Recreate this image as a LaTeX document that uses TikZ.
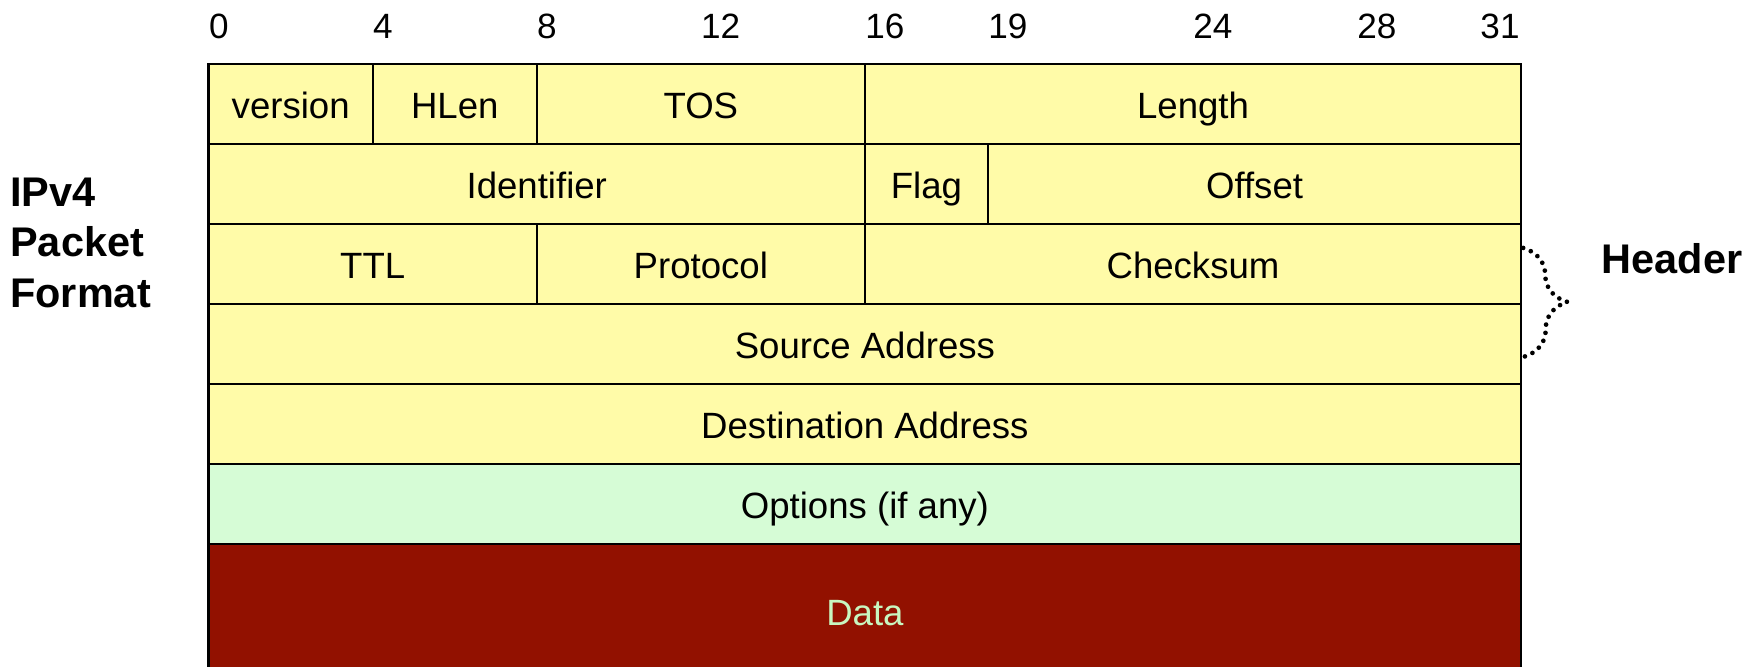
\documentclass[tikz,border=0pt]{standalone}
\usepackage{fontspec}
\setmainfont{Liberation Sans}
\usetikzlibrary{positioning,calc,decorations.pathreplacing}
\definecolor{ipedge}{RGB}{0,0,0}
\definecolor{iphdr}{RGB}{255,251,168}
\definecolor{ipopt}{RGB}{214,252,214}
\definecolor{ipdata}{RGB}{146,17,0}
\definecolor{ipdtxt}{RGB}{200,246,192}
\tikzset{
  fld/.style={
    draw=ipedge, line width=1.3pt, fill=iphdr, outer sep=0pt, inner sep=0pt,
    minimum height=1.56cm, text height=16pt, text depth=0pt,
    font=\fontsize{20.3}{24}\selectfont
  },
  bits/.style={minimum width=#1*0.8cm},
  opt/.style={fld, fill=ipopt},
  dat/.style={fld, fill=ipdata, text=ipdtxt, minimum height=2.62cm},
  bitno/.style={inner sep=0pt, font=\fontsize{19.5}{22}\selectfont},
  lbl/.style={inner sep=0pt, align=left, font=\bfseries\fontsize{23}{28}\selectfont},
  brc/.style={
    decorate, decoration={brace, amplitude=0.85cm}, line width=2.6pt,
    dash pattern=on 0pt off 4.6pt, line cap=round
  }
}
\begin{document}
\begin{tikzpicture}
  \useasboundingbox (-4.07,1.248) rectangle (30.24,-11.76);
  \clip (-4.07,1.248) rectangle (30.24,-11.76);
  % bit numbers
  \foreach \b in {0,4,8,12,16,19,24,28,31}
    \node[bitno, anchor=base west] (n\b) at (\b*0.8, 0.49) {\b};
  % header rows
  \node[fld, bits=4, anchor=north west] (ver) at (0,0) {version};
  \node[fld, bits=4, right=0pt of ver] (hlen) {HLen};
  \node[fld, bits=8, right=0pt of hlen] (tos) {TOS};
  \node[fld, bits=16, right=0pt of tos] (len) {Length};
  \node[fld, bits=16, anchor=north west] (ident) at (ver.south west) {Identifier};
  \node[fld, bits=3, right=0pt of ident] (flag) {Flag};
  \node[fld, bits=13, right=0pt of flag] (off) {Offset};
  \node[fld, bits=8, anchor=north west] (ttl) at (ident.south west) {TTL};
  \node[fld, bits=8, right=0pt of ttl] (proto) {Protocol};
  \node[fld, bits=16, right=0pt of proto] (chk) {Checksum};
  \node[fld, bits=32, anchor=north west] (src) at (ttl.south west) {Source Address};
  \node[fld, bits=32, below=0pt of src] (dst) {Destination Address};
  \node[opt, bits=32, below=0pt of dst] (opts) {Options (if any)};
  \node[dat, bits=32, below=0pt of opts] (data) {Data};
  % labels and brace
  \node[lbl, anchor=west] (title) at (-3.875,-3.49) {IPv4\\Packet\\Format};
  \coordinate (btop) at ($(chk.north east)!0.3!(chk.south east)$);
  \coordinate (bbot) at ($(src.north east)!0.66!(src.south east)$);
  \draw[brc] ([xshift=0.04cm]btop) -- ([xshift=0.06cm]bbot);
  \node[lbl, anchor=west] (hdr) at (27.17,-3.8) {Header};
\end{tikzpicture}
\end{document}
